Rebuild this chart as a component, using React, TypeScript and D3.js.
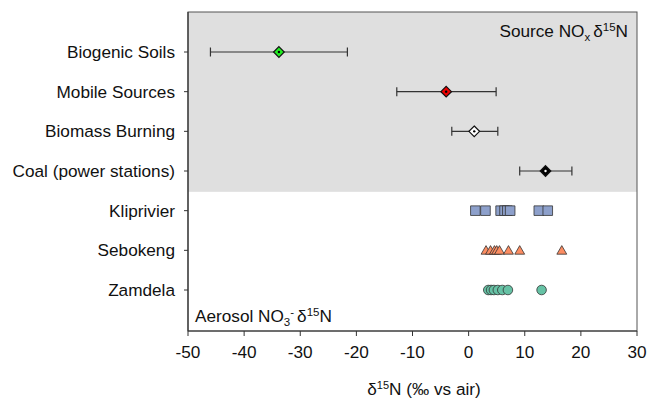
import React from 'react';
import * as d3 from 'd3';

// categories top to bottom
const categories = [
  'Biogenic Soils',
  'Mobile Sources',
  'Biomass Burning',
  'Coal (power stations)',
  'Kliprivier',
  'Sebokeng',
  'Zamdela',
];

// source NOx: mean, low, high
const sourceNames = ['Biogenic Soils', 'Mobile Sources', 'Biomass Burning', 'Coal (power stations)'];
const sourceMean = [-33.8, -4.0, 1.0, 13.7];
const sourceLow = [-46.0, -12.8, -3.0, 9.1];
const sourceHigh = [-21.6, 4.9, 5.2, 18.4];
const sourceFill = ['#22ee22', '#ee0000', '#ffffff', '#000000'];

// aerosol nitrate d15N per site
const kliprivier = [1.2, 3.0, 5.7, 6.4, 6.9, 7.4, 12.5, 14.1];
const sebokeng = [3.1, 3.9, 4.6, 5.0, 5.5, 7.1, 9.1, 16.6];
const zamdela = [3.5, 4.0, 4.5, 5.2, 6.0, 7.0, 13.0];

const xTicks = [-50, -40, -30, -20, -10, 0, 10, 20, 30];

const W = 650, H = 400;
const left = 188, right = 637, top = 12, bottom = 331;
const font = 'Liberation Sans, Arial, sans-serif';
const fs = 17.2;

export default function App() {
  const x = d3.scaleLinear().domain([-50, 30]).range([left, right]);
  const y = d3.scalePoint<string>().domain(categories).range([52, 290]);

  const split = ((y('Coal (power stations)') as number) + (y('Kliprivier') as number)) / 2 + 1;

  const diamond = d3.symbol().type(d3.symbolDiamond2).size(72);
  const square = d3.symbol().type(d3.symbolSquare).size(92);
  const tri = d3.symbol().type(d3.symbolTriangle2).size(70);
  const circ = d3.symbol().type(d3.symbolCircle).size(72);

  const sites = [
    { name: 'Kliprivier', vals: kliprivier, sym: square, color: d3.schemeSet2[2], dy: 0 },
    { name: 'Sebokeng', vals: sebokeng, sym: tri, color: d3.schemeSet2[1], dy: 1 },
    { name: 'Zamdela', vals: zamdela, sym: circ, color: d3.schemeSet2[0], dy: 0 },
  ];

  return (
    <svg width={W} height={H} style={{ position: 'absolute', left: 0, top: 0, background: '#fff' }}
      fontFamily={font}>
      {/* shaded source area */}
      <rect x={left} y={top} width={right - left} height={split - top} fill="#dfdfdf" />
      <rect x={left} y={top} width={right - left} height={bottom - top} fill="none" stroke="#555" strokeWidth={1} />
      <line x1={left} x2={left} y1={top} y2={bottom} stroke="#333" strokeWidth={1.2} />
      <line x1={left} x2={right} y1={bottom} y2={bottom} stroke="#333" strokeWidth={1.2} />

      {/* y axis */}
      {categories.map((c) => (
        <g key={c} transform={`translate(0,${y(c)})`}>
          <line x1={left - 4} x2={left} stroke="#333" />
          <text x={left - 13} dy="0.35em" textAnchor="end" fontSize={fs} fill="#111">{c}</text>
        </g>
      ))}

      {/* x axis */}
      {xTicks.map((t) => (
        <g key={t} transform={`translate(${x(t)},${bottom})`}>
          <line y1={0} y2={5} stroke="#333" />
          <text y={27} textAnchor="middle" fontSize={fs} fill="#111">{t}</text>
        </g>
      ))}
      <text x={424} y={395} textAnchor="middle" fontSize={fs} fill="#111">
        δ<tspan fontSize={11} dy={-6}>15</tspan><tspan dy={6}>N (‰ vs air)</tspan>
      </text>

      {/* source error bars */}
      {sourceNames.map((s, i) => {
        const cy = y(s) as number;
        return (
          <g key={s}>
            <line x1={x(sourceLow[i])} x2={x(sourceHigh[i])} y1={cy} y2={cy} stroke="#333" strokeWidth={1.2} />
            <line x1={x(sourceLow[i])} x2={x(sourceLow[i])} y1={cy - 4.5} y2={cy + 4.5} stroke="#333" strokeWidth={1.2} />
            <line x1={x(sourceHigh[i])} x2={x(sourceHigh[i])} y1={cy - 4.5} y2={cy + 4.5} stroke="#333" strokeWidth={1.2} />
            <path d={diamond() as string} transform={`translate(${x(sourceMean[i])},${cy})`}
              fill={sourceFill[i]} stroke="#111" strokeWidth={1.2} />
            <circle cx={x(sourceMean[i])} cy={cy} r={1.2} fill={i === 3 ? '#fff' : '#000'} />
          </g>
        );
      })}

      {/* aerosol points */}
      {sites.map((st) => (
        <g key={st.name}>
          {st.vals.map((v, j) => (
            <path key={j} d={st.sym() as string}
              transform={`translate(${x(v)},${(y(st.name) as number) + st.dy})`}
              fill={st.color} stroke="#333" strokeWidth={0.8} />
          ))}
        </g>
      ))}

      {/* panel labels */}
      <text x={628} y={37} textAnchor="end" fontSize={fs} fill="#111">
        Source NO<tspan fontSize={11.5} dy={4}>x</tspan><tspan dx={3} dy={-4}>δ</tspan>
        <tspan fontSize={11.5} dy={-6}>15</tspan><tspan dy={6}>N</tspan>
      </text>
      <text x={195} y={322} fontSize={fs} fill="#111">
        Aerosol NO<tspan fontSize={11.5} dy={4}>3</tspan><tspan fontSize={11.5} dy={-10}>-</tspan>
        <tspan dx={3} dy={6}>δ</tspan><tspan fontSize={11.5} dy={-6}>15</tspan><tspan dy={6}>N</tspan>
      </text>
    </svg>
  );
}
